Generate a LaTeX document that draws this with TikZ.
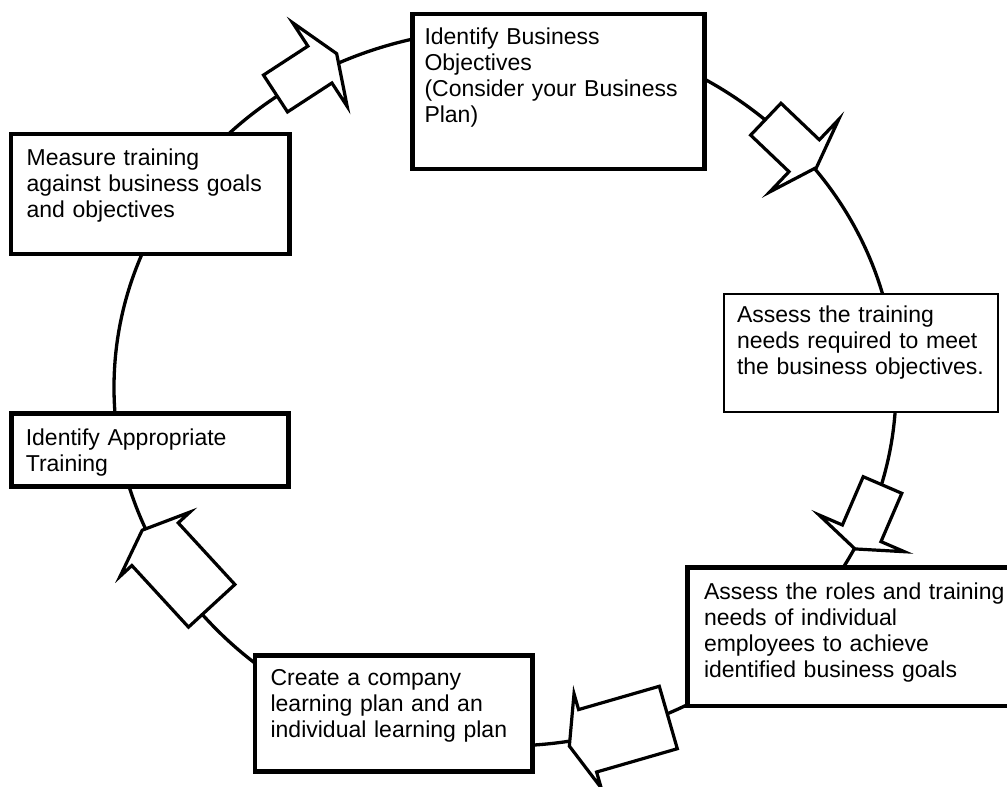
\documentclass[tikz,border=0pt]{standalone}
\usepackage{fontspec}
\setmainfont{Liberation Sans}
% #1,#2 tail centre; #3 direction angle; #4 body length; #5 body width; #6 head width; #7 head length
\newcommand\cyclearrow[7]{%
  \draw[arrowshape, shift={(#1,#2)}, rotate=#3]
    (0,-#5/2) -- (#4,-#5/2) -- (#4,-#6/2) -- (#4+#7,0) -- (#4,#6/2) -- (#4,#5/2) -- (0,#5/2) -- cycle;}
\begin{document}
\begin{tikzpicture}[x=1pt,y=-1pt,
  stage/.style={draw, rectangle, fill=white, line width=4.8pt, anchor=north west,
    outer sep=0pt, align=left, font=\fontsize{23pt}{26pt}\selectfont},
  thinstage/.style={stage, line width=2pt},
  ring/.style={line width=3.3pt},
  arrowshape/.style={draw, fill=white, line width=3.2pt}]
\path[fill=white, use as bounding box] (0,0) rectangle (1007,787);
% cycle line
\draw[ring] (505,387.5) ellipse [x radius=391pt, y radius=358.5pt];
% arrows along the cycle
\cyclearrow{275.5}{93.5}{33.1}{53}{44}{100}{20}
\cyclearrow{765.8}{119.2}{-43.6}{53}{44}{100}{17}
\cyclearrow{882.5}{485}{-113.3}{52.6}{42}{93}{17}
\cyclearrow{668.3}{717.5}{-163.9}{84}{65}{98}{19}
\cyclearrow{211.7}{605.8}{132.6}{83.7}{63}{95}{19}
% stages
\node[stage, inner xsep=12pt, inner ysep=10pt, text width=268pt, text height=20pt, text depth=115pt]
  (objectives) at (412.5,14) {Identify Business\\Objectives\\(Consider your Business\\Plan)};
\node[thinstage, inner xsep=13.3pt, inner ysep=8pt, text width=247.7pt, text height=20.3pt, text depth=81.7pt]
  (needs) at (723.7,293.7) {Assess the training\\needs required to meet\\the business objectives.};
\node[stage, inner xsep=16.5pt, inner ysep=10pt, text width=324.5pt, text height=21.5pt, text depth=97pt]
  (roles) at (687.5,567.5) {Assess the roles and training\\needs of individual\\employees to achieve\\identified business goals};
\node[stage, inner xsep=15.6pt, inner ysep=9pt, text width=246.1pt, text height=20.3pt, text depth=77.6pt]
  (plan) at (255,655.7) {Create a company\\learning plan and an\\individual learning plan};
\node[stage, inner xsep=14.4pt, inner ysep=10pt, text width=248.3pt, text height=22.5pt, text depth=31.1pt]
  (training) at (11.4,413.2) {Identify Appropriate\\Training};
\node[stage, inner xsep=15.6pt, inner ysep=10pt, text width=247.3pt, text height=21pt, text depth=79pt]
  (measure) at (11,134) {Measure training\\against business goals\\and objectives};
\end{tikzpicture}
\end{document}
